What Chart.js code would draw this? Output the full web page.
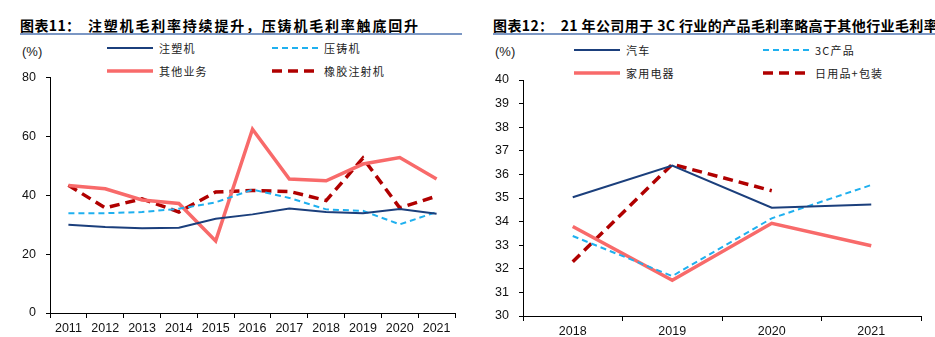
<!DOCTYPE html>
<html>
<head>
<meta charset="utf-8">
<script src="https://cdn.jsdelivr.net/npm/chart.js@4.4.1/dist/chart.umd.min.js"></script>
<style>
  body { margin: 0; width: 935px; height: 337px; overflow: hidden; background: #fff; position: relative;
         font-family: "Liberation Sans", Arial, sans-serif; }
  .title { position: absolute; top: 15px; font-family: "Noto Sans CJK SC", sans-serif; font-weight: bold;
           font-size: 14px; letter-spacing: 0.4px; white-space: nowrap; color: #000; line-height: 20px; }
  .rule { position: absolute; top: 33px; height: 2px; background: #7b97c4; }
  .unit { position: absolute; top: 44px; font-size: 13px; color: #222; }
  .leg { position: absolute; display: flex; align-items: center; font-family: "Noto Sans CJK SC", sans-serif;
         font-size: 11px; letter-spacing: 1.2px; color: #222; white-space: nowrap; }
  .leg svg { margin-right: 6px; }
  canvas { position: absolute; }
</style>
</head>
<body>
<div class="title" style="left:20px; width:440px; overflow:hidden;">图表11：<span style="position:absolute; left:68px; letter-spacing:1.8px;">注塑机毛利率持续提升，压铸机毛利率触底回升</span></div>
<div class="rule" style="left:20px; width:442px;"></div>
<div class="title" style="left:493px; width:442px; overflow:hidden;">图表12：&nbsp;&nbsp;21 年公司用于 3C 行业的产品毛利率略高于其他行业毛利率</div>
<div class="rule" style="left:493px; width:442px;"></div>
<div class="unit" style="left:22px;">(%)</div>
<div class="unit" style="left:495px;">(%)</div>
<div id="legL"></div>
<div id="legR"></div>
<div style="position:absolute;left:0;top:60px;width:470px;height:277px;"><canvas id="left"></canvas></div>
<div style="position:absolute;left:467px;top:60px;width:468px;height:277px;"><canvas id="right"></canvas></div>
<script>
// 图表11
const yearsL = ['2011', '2012', '2013', '2014', '2015', '2016', '2017', '2018', '2019', '2020', '2021'];
const injection = [30.0, 29.2, 28.8, 29.0, 32.0, 33.5, 35.5, 34.3, 33.9, 35.3, 33.7];     // 注塑机
const dieCasting = [33.9, 33.9, 34.3, 35.4, 37.6, 41.9, 39.1, 35.2, 34.7, 30.1, 34.3];    // 压铸机
const otherBiz = [43.3, 42.2, 38.4, 37.2, 24.5, 62.4, 45.5, 44.9, 50.6, 52.8, 45.5];      // 其他业务
const rubber = [43.4, 35.7, 38.8, 34.3, 41.1, 41.6, 41.3, 38.2, 52.6, 35.7, 39.7];        // 橡胶注射机
const ticksL = [0, 20, 40, 60, 80];

// 图表12
const yearsR = ['2018', '2019', '2020', '2021'];
const auto = [35.03, 36.37, 34.59, 34.72];        // 汽车
const product3C = [33.39, 31.69, 34.14, 35.55];   // 3C产品
const appliance = [33.79, 31.51, 33.93, 32.98];   // 家用电器
const household = [32.30, 36.43, 35.31, null];    // 日用品+包装
const ticksR = [30, 31, 32, 33, 34, 35, 36, 37, 38, 39, 40];

const NAVY = '#1b3f7c', SKY = '#1fb0ef', SALMON = '#f86a6a', CRIMSON = '#b00000';
const styles = [
    { color: NAVY, width: 2, dash: [] },
    { color: SKY, width: 2, dash: [6, 4] },
    { color: SALMON, width: 3.5, dash: [] },
    { color: CRIMSON, width: 3.5, dash: [10, 6] }
];

function legend(id, names, spots) {
    const el = document.getElementById(id);
    names.forEach((name, i) => {
        const s = styles[i];
        const d = document.createElement('div');
        d.className = 'leg';
        d.style.left = spots[i][0] + 'px';
        d.style.top = (spots[i][1] - 9) + 'px';
        d.style.height = '18px';
        d.innerHTML = `<svg width="46" height="6"><line x1="0" y1="3" x2="46" y2="3" stroke="${s.color}" stroke-width="${s.width}" stroke-dasharray="${s.dash.join(' ')}"/></svg>${name}`;
        el.appendChild(d);
    });
}
legend('legL', ['注塑机', '压铸机', '其他业务', '橡胶注射机'], [[107, 48], [272, 48], [107, 71], [272, 71]]);
legend('legR', ['汽车', '3C产品', '家用电器', '日用品+包装'], [[574, 50], [763, 50], [574, 73], [763, 73]]);

function makeChart(id, labels, series, min, max, tickVals, yWidth, pad, xHeight) {
    return new Chart(document.getElementById(id), {
        type: 'line',
        data: {
            labels,
            datasets: series.map((data, i) => ({
                data,
                borderColor: styles[i].color,
                borderWidth: styles[i].width,
                borderDash: styles[i].dash,
                pointRadius: 0,
                tension: 0,
                spanGaps: false
            }))
        },
        options: {
            responsive: true,
            maintainAspectRatio: false,
            animation: false,
            layout: { padding: pad },
            plugins: { legend: { display: false }, tooltip: { enabled: false } },
            scales: {
                x: {
                    offset: true,
                    grid: { offset: true, drawOnChartArea: false, drawTicks: true, tickLength: 5, color: '#000' },
                    border: { color: '#000', width: 1 },
                    ticks: { color: '#111', padding: 3, maxRotation: 0, font: { family: 'Liberation Sans', size: 12.5 } },
                    afterFit: s => { s.height = xHeight; }
                },
                y: {
                    min, max,
                    afterBuildTicks: s => { s.ticks = tickVals.map(v => ({ value: v })); },
                    grid: { drawOnChartArea: false, drawTicks: true, tickLength: 4, color: '#000' },
                    border: { color: '#000', width: 1 },
                    ticks: { color: '#111', padding: 10, font: { family: 'Liberation Sans', size: 12.5 } },
                    afterFit: s => { s.width = yWidth; }
                }
            }
        }
    });
}

makeChart('left', yearsL, [injection, dieCasting, otherBiz, rubber], 0, 80, ticksL, 50,
    { left: 0, right: 15, top: 16, bottom: 0 }, 24);
makeChart('right', yearsR, [auto, product3C, appliance, household], 30, 40, ticksR, 56,
    { left: 0, right: 14, top: 20, bottom: 0 }, 21);
</script>
</body>
</html>
